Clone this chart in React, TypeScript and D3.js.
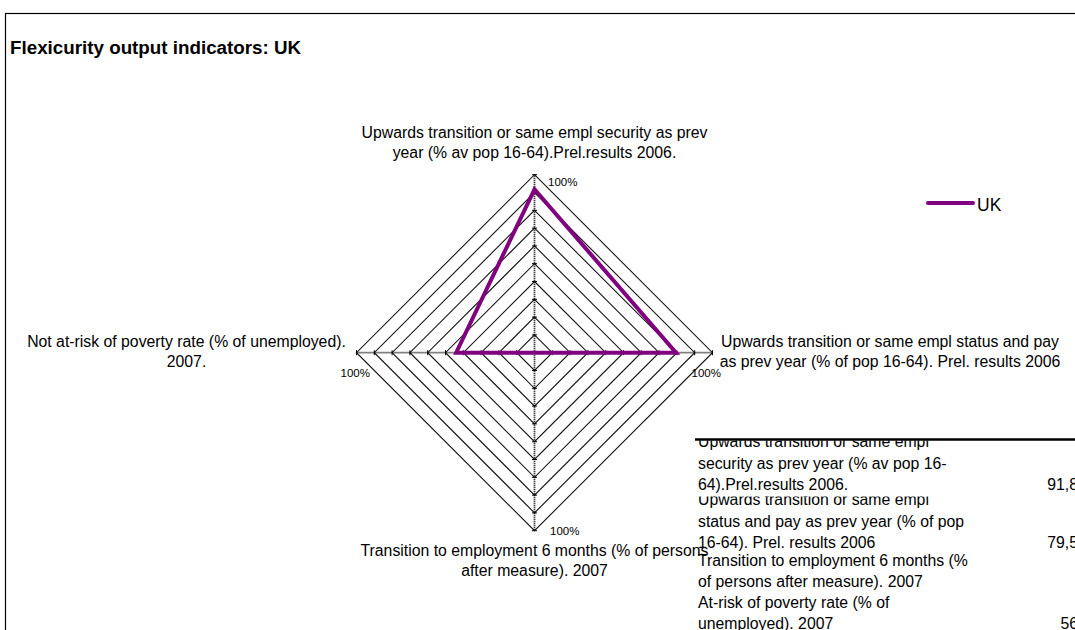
import * as d3 from "d3";

const categories = [
  ["Upwards transition or same empl security as prev", "year (% av pop 16-64).Prel.results 2006."],
  ["Upwards transition or same empl status and pay", "as prev year (% of pop 16-64). Prel. results 2006"],
  ["Transition to employment 6 months (% of persons", "after measure). 2007"],
  ["Not at-risk of poverty rate (% of unemployed).", "2007."],
];
const ukValues = [91.8, 79.5, 0, 44];
const ringTicks = d3.range(10, 101, 10);
const axisMaxLabel = "100%";

const tableLabels = [
  ["Upwards transition or same empl", "security as prev year (% av pop 16-", "64).Prel.results 2006."],
  ["Upwards transition or same empl", "status and pay as prev year (% of pop", "16-64). Prel. results 2006"],
  ["Transition to employment 6 months (%", "of persons after measure). 2007"],
  ["At-risk of poverty rate (% of", "unemployed). 2007"],
];
const tableValues = ["91,8", "79,5", "", "56"];

const W = 1075;
const H = 630;
const FONT = "'Liberation Sans', Arial, sans-serif";
const PURPLE = "#800080";

export default function App() {
  const cx = 534.5;
  const cy = 352.7;
  const R = 178;
  const r = d3.scaleLinear().domain([0, 100]).range([0, R]);
  const angle = (i: number) => (i * Math.PI * 2) / categories.length;
  const pt = (i: number, v: number): [number, number] => [
    cx + r(v) * Math.sin(angle(i)),
    cy - r(v) * Math.cos(angle(i)),
  ];

  const closed = d3.line().curve(d3.curveLinearClosed);
  const ringPath = (v: number) => closed(categories.map((_, i) => pt(i, v)));
  const seriesPath = closed(ukValues.map((v, i) => pt(i, v)));

  // label placement around each axis end
  const labelPos = [
    { x: cx, y: pt(0, 100)[1] - 37, anchor: "middle" },
    { x: 890, y: cy - 6, anchor: "middle" },
    { x: cx, y: pt(2, 100)[1] + 25, anchor: "middle" },
    { x: 186.5, y: cy - 6, anchor: "middle" },
  ];
  const maxLabelOff = [
    [13.5, 11.5],
    [-21, 24.5],
    [15.5, 4],
    [-16, 24.5],
  ];

  // table rows
  const rowBottoms = [494, 552, 591, 633];
  const rowTops = [440.5, 496.5, 552, 591];
  const lh = 21.3;

  return (
    <div>
      <style>{`body{margin:0;overflow:hidden}`}</style>
      <svg width={W} height={H} style={{ display: "block", background: "#fff" }} fontFamily={FONT}>
        <defs>
          {rowTops.map((t, i) => (
            <clipPath id={`row${i}`} key={i}>
              <rect x={690} y={t} width={400} height={rowBottoms[i] - t + 2} />
            </clipPath>
          ))}
        </defs>
        <rect x={5.5} y={13.5} width={W + 10} height={H + 10} fill="none" stroke="#000" strokeWidth={1.2} />

        <text x={10} y={54} fontSize={18.8} fontWeight="bold">
          Flexicurity output indicators: UK
        </text>

        {/* grid rings */}
        {ringTicks.map((t) => (
          <path key={t} d={ringPath(t) || ""} fill="none" stroke="#111" strokeWidth={1.1} />
        ))}

        {/* axes */}
        {categories.map((_, i) => {
          const [x2, y2] = pt(i, 100);
          const a = angle(i);
          const px = Math.cos(a);
          const py = Math.sin(a);
          return (
            <g key={i}>
              <line x1={cx} y1={cy} x2={x2} y2={y2} stroke="#000" strokeWidth={1.8} strokeDasharray="1 1" />
              {ringTicks.map((t) => {
                const [tx, ty] = pt(i, t);
                return (
                  <line key={t} x1={tx - px * 2.5} y1={ty - py * 2.5} x2={tx + px * 2.5} y2={ty + py * 2.5} stroke="#000" strokeWidth={1} />
                );
              })}
              <text x={x2 + maxLabelOff[i][0]} y={y2 + maxLabelOff[i][1]} fontSize={11.5}>
                {axisMaxLabel}
              </text>
            </g>
          );
        })}

        {/* category labels */}
        {categories.map((lines, i) => (
          <text key={i} x={labelPos[i].x} y={labelPos[i].y} fontSize={15.8} textAnchor={labelPos[i].anchor}>
            {lines.map((l, j) => (
              <tspan key={j} x={labelPos[i].x} dy={j === 0 ? 0 : 20}>
                {l}
              </tspan>
            ))}
          </text>
        ))}

        {/* series */}
        <path d={seriesPath || ""} fill="none" stroke={PURPLE} strokeWidth={4} strokeLinejoin="miter" />

        {/* legend */}
        <line x1={928} y1={203} x2={973} y2={203} stroke={PURPLE} strokeWidth={4} strokeLinecap="round" />
        <text x={977} y={211} fontSize={17.5}>
          UK
        </text>

        {/* data table */}
        {tableLabels.map((lines, i) => {
          const base = rowBottoms[i] - 4;
          return (
            <g key={i} clipPath={`url(#row${i})`}>
              {lines.map((l, j) => (
                <text key={j} x={698} y={base - (lines.length - 1 - j) * lh} fontSize={15.8}>
                  {l}
                </text>
              ))}
              <text x={1078} y={base} fontSize={15.8} textAnchor="end">
                {tableValues[i]}
              </text>
            </g>
          );
        })}
        <line x1={695} y1={439.5} x2={W} y2={439.5} stroke="#000" strokeWidth={2.7} />
      </svg>
    </div>
  );
}
